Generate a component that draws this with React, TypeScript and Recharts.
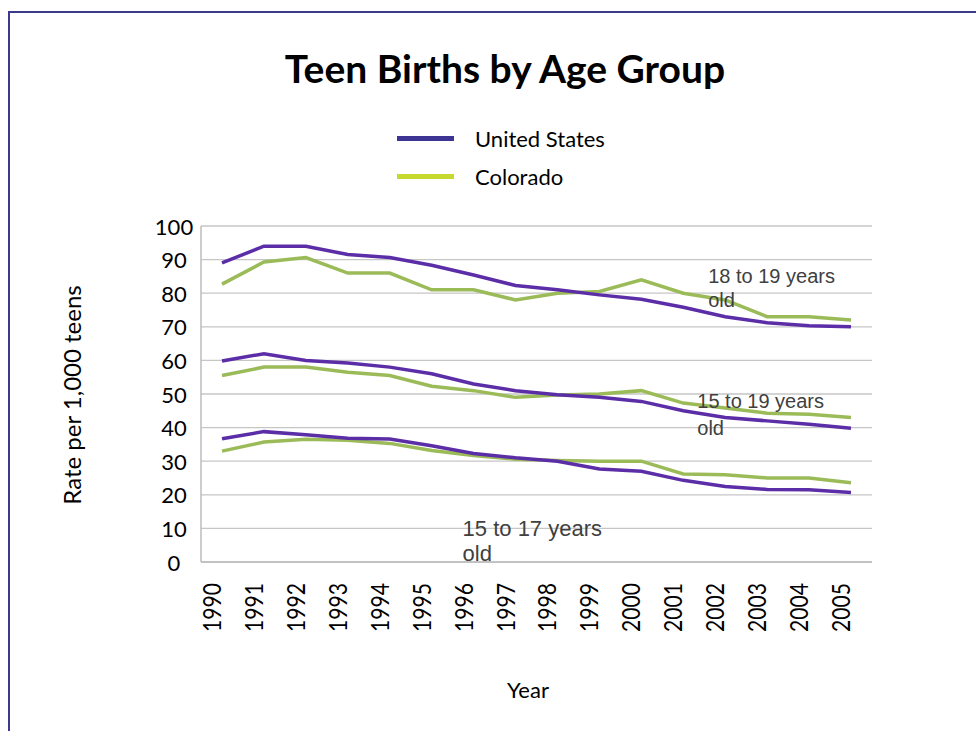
import React from 'react';
import { LineChart, Line, XAxis, YAxis, CartesianGrid, Legend, ReferenceDot } from 'recharts';

const W = 976;
const H = 731;

const years = ['1990', '1991', '1992', '1993', '1994', '1995', '1996', '1997', '1998', '1999', '2000', '2001', '2002', '2003', '2004', '2005'];
const us1819 = [89, 94, 94, 91.5, 90.6, 88.3, 85.4, 82.3, 81, 79.5, 78.2, 75.8, 73, 71.2, 70.3, 70];
const co1819 = [82.7, 89.3, 90.6, 86, 86, 81, 81, 78, 80, 80.5, 84, 80, 78, 73, 73, 72];
const us1519 = [59.8, 62, 60, 59.2, 58, 56, 53, 51, 49.8, 49, 47.8, 45, 43, 42, 41, 39.8];
const co1519 = [55.5, 58, 58, 56.5, 55.5, 52.3, 51, 49, 49.7, 50, 51, 47.3, 45.8, 44.3, 44, 43];
const us1517 = [36.7, 38.8, 37.9, 36.8, 36.6, 34.6, 32.3, 31, 30, 27.7, 27, 24.3, 22.5, 21.6, 21.5, 20.7];
const co1517 = [33, 35.7, 36.5, 36.2, 35.3, 33.2, 31.7, 30.6, 30.2, 30, 30, 26.2, 26, 25, 25, 23.6];
const yTicks = [0, 10, 20, 30, 40, 50, 60, 70, 80, 90, 100];
const legendItems = ['United States', 'Colorado'];

const data = years.map((year, i) => ({
  year,
  us1819: us1819[i],
  co1819: co1819[i],
  us1519: us1519[i],
  co1519: co1519[i],
  us1517: us1517[i],
  co1517: co1517[i],
}));

const US_LINE = '#5b2ea8';
const CO_LINE = '#9bbb59';
const US_LEG = '#3c3593';
const CO_LEG = '#c6d930';
const FONT = 'Lato, "Noto Sans", sans-serif';

const XTick = (props: any) => {
  const { x, y, payload } = props;
  return (
    <text
      x={0}
      y={0}
      transform={`translate(${x - 11},${y + 21}) rotate(-90)`}
      textAnchor="end"
      dominantBaseline="central"
      fontFamily={FONT}
      fontSize={25}
      textLength={49}
      lengthAdjust="spacingAndGlyphs"
      fill="#000"
    >
      {payload.value}
    </text>
  );
};

const YTick = (props: any) => {
  const { x, y, payload } = props;
  return (
    <text x={x - 27} y={y} textAnchor="middle" dominantBaseline="central" fontFamily={FONT} fontSize={22} fill="#000">
      {payload.value}
    </text>
  );
};

const Ann = (props: any) => {
  const { viewBox, lines, dx, gap, size } = props;
  const x = viewBox.x + (viewBox.width || 0) / 2 + dx;
  const y = viewBox.y + (viewBox.height || 0) / 2;
  return (
    <g>
      {lines.map((t: string, i: number) => (
        <text
          key={i}
          x={x}
          y={y + i * gap}
          textAnchor="start"
          dominantBaseline="central"
          fontFamily='"Liberation Sans", Arial, sans-serif'
          fontSize={size}
          fill="#404040"
        >
          {t}
        </text>
      ))}
    </g>
  );
};

const LegendContent = () => (
  <div style={{ position: 'relative', width: 260, height: 70, fontFamily: FONT }}>
    {legendItems.map((name, i) => (
      <div key={name} style={{ position: 'absolute', left: 0, top: i * 38, height: 28, width: 260 }}>
        <div
          style={{
            position: 'absolute',
            left: 0,
            top: 11,
            width: 57,
            height: 5,
            background: i === 0 ? US_LEG : CO_LEG,
          }}
        />
        <div style={{ position: 'absolute', left: 78, top: 0, fontSize: 22, lineHeight: '28px', color: '#000', whiteSpace: 'nowrap' }}>
          {name}
        </div>
      </div>
    ))}
  </div>
);

export default function App() {
  return (
    <div style={{ position: 'absolute', left: 0, top: 0, width: W, height: H, background: '#fff', overflow: 'hidden' }}>
      <div style={{ position: 'absolute', left: 8, top: 11, width: W - 8, height: 2, background: '#3d3a8e' }} />
      <div style={{ position: 'absolute', left: 8, top: 11, width: 2, height: H - 11, background: '#3d3a8e' }} />
      <div
        style={{
          position: 'absolute',
          left: 0,
          top: 44,
          width: 1010,
          textAlign: 'center',
          fontFamily: FONT,
          fontWeight: 700,
          fontSize: 39,
          lineHeight: '48px',
          color: '#000',
        }}
      >
        Teen Births by Age Group
      </div>
      <div
        style={{
          position: 'absolute',
          left: 72 - 150,
          top: 395 - 15,
          width: 300,
          height: 30,
          lineHeight: '30px',
          textAlign: 'center',
          transform: 'rotate(-90deg)',
          fontFamily: FONT,
          fontSize: 24,
          color: '#000',
          whiteSpace: 'nowrap',
        }}
      >
        Rate per 1,000 teens
      </div>
      <div
        style={{
          position: 'absolute',
          left: 428,
          top: 676,
          width: 200,
          textAlign: 'center',
          fontFamily: FONT,
          fontSize: 22,
          lineHeight: '28px',
          color: '#000',
        }}
      >
        Year
      </div>
      <div style={{ position: 'absolute', left: 0, top: 0 }}>
        <LineChart width={W} height={H} data={data} margin={{ top: 226, right: 104, left: 141, bottom: 89 }}>
          <CartesianGrid vertical={false} stroke="#c6c6c6" strokeWidth={1.3} />
          <XAxis
            dataKey="year"
            interval={0}
            padding={{ left: 21, right: 21 }}
            height={80}
            tickSize={0}
            tickMargin={0}
            stroke="#bdbdbd"
            strokeWidth={1.5}
            tick={<XTick />}
          />
          <YAxis
            domain={[0, 100]}
            ticks={yTicks}
            interval={0}
            width={60}
            tickSize={0}
            tickMargin={0}
            stroke="#bdbdbd"
            strokeWidth={1.5}
            tick={<YTick />}
          />
          <Legend
            layout="vertical"
            verticalAlign="middle"
            align="center"
            content={<LegendContent />}
            wrapperStyle={{ position: 'absolute', left: 397, top: 125, width: 260, height: 70 }}
          />
          <Line dataKey="co1819" name="Colorado" stroke={CO_LINE} strokeWidth={3.5} dot={false} isAnimationActive={false} />
          <Line dataKey="us1819" name="United States" stroke={US_LINE} strokeWidth={3.5} dot={false} isAnimationActive={false} />
          <Line dataKey="co1519" name="Colorado" stroke={CO_LINE} strokeWidth={3.5} dot={false} isAnimationActive={false} />
          <Line dataKey="us1519" name="United States" stroke={US_LINE} strokeWidth={3.5} dot={false} isAnimationActive={false} />
          <Line dataKey="co1517" name="Colorado" stroke={CO_LINE} strokeWidth={3.5} dot={false} isAnimationActive={false} />
          <Line dataKey="us1517" name="United States" stroke={US_LINE} strokeWidth={3.5} dot={false} isAnimationActive={false} />
          <ReferenceDot x="2002" y={85} r={0} fill="none" stroke="none" ifOverflow="visible"
            label={<Ann lines={['18 to 19 years', 'old']} dx={-17} gap={24} size={20} />} />
          <ReferenceDot x="2001" y={48} r={0} fill="none" stroke="none" ifOverflow="visible"
            label={<Ann lines={['15 to 19 years', 'old']} dx={14} gap={27} size={20} />} />
          <ReferenceDot x="1996" y={10} r={0} fill="none" stroke="none" ifOverflow="visible"
            label={<Ann lines={['15 to 17 years', 'old']} dx={-11} gap={25} size={22} />} />
        </LineChart>
      </div>
    </div>
  );
}
